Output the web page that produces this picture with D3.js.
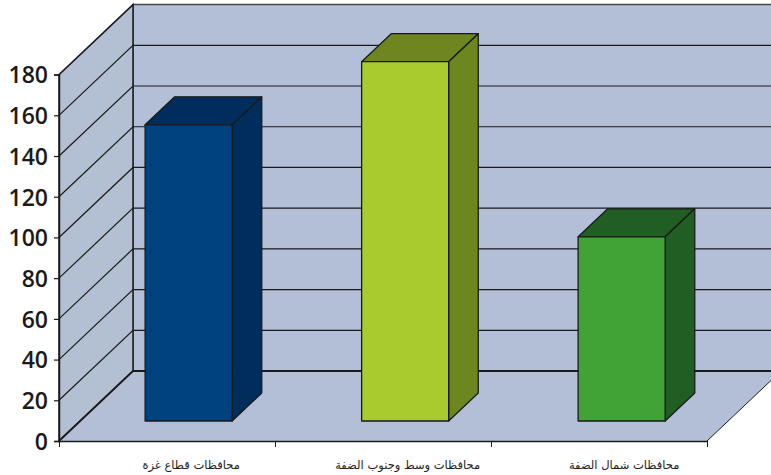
<!DOCTYPE html>
<html>
<head>
<meta charset="utf-8">
<script src="https://cdn.jsdelivr.net/npm/d3@7"></script>
<style>
  html, body { margin: 0; padding: 0; background: #fff; }
  svg { display: block; }
</style>
</head>
<body>
<svg id="chart"></svg>
<script>
const categories = ['محافظات قطاع غزة', 'محافظات وسط وجنوب الضفة', 'محافظات شمال الضفة'];
const values = [145.5, 176.5, 90.5];
const tickValues = [0, 20, 40, 60, 80, 100, 120, 140, 160, 180];
const faceColors = ['#00427f', '#a8cc2d', '#41a336'];
const shadeColors = ['#002d5c', '#6e861f', '#215e24'];

const W = 771, H = 475;
const left = 59, right = 707, bottom = 441;
const depthX = 74, depthY = 70;

const svg = d3.select('#chart').attr('width', W).attr('height', H);

const x = d3.scaleBand().domain(categories).range([left + 1, right + 1]).paddingInner(0.598).paddingOuter(0.2955);
const xEdge = d3.scaleLinear().domain([0, categories.length]).range([left, right]);
const y = d3.scaleLinear().domain([0, 180]).range([bottom, 74.6]);

// depth runs 0 (front of the floor) to 1 (back wall)
const dx = d3.scaleLinear().domain([0, 1]).range([0, depthX]);
const dy = d3.scaleLinear().domain([0, 1]).range([0, -depthY]);
const pt = (px, val, d) => [px + dx(d), y(val) + dy(d)];
const poly = pts => d3.line()(pts) + 'Z';

const ink = '#1a1a1a';

// walls and floor
svg.append('path')
  .attr('d', poly([pt(left, 0, 1), pt(W + 20, 0, 1), pt(W + 20, 180, 1), pt(left, 180, 1)]))
  .attr('fill', '#b3bfd7').attr('stroke', '#4a4a4a').attr('stroke-width', 1.5);
svg.append('path')
  .attr('d', poly([pt(left, 0, 0), pt(left, 0, 1), pt(left, 180, 1), pt(left, 180, 0)]))
  .attr('fill', '#b3bfd2').attr('stroke', ink).attr('stroke-width', 1.5);
svg.append('path')
  .attr('d', poly([pt(left, 0, 0), pt(right, 0, 0), pt(right, 0, 1), pt(left, 0, 1)]))
  .attr('fill', '#b3bfd7');
svg.append('path')
  .attr('d', poly([pt(right, 0, 0), pt(W + 20, 0, 0), pt(W + 20, 0, 1), pt(right, 0, 1)]))
  .attr('fill', '#fff');

// gridlines, side wall then back wall
const grid = svg.append('g').attr('fill', 'none').attr('stroke', ink);
tickValues.forEach(t => {
  if (t < 180) {
    grid.append('path').attr('d', d3.line()([pt(left, t, 0), pt(left, t, 1), pt(W + 20, t, 1)]))
      .attr('stroke-width', t === 0 ? 1.8 : 1.2);
  }
});

// floor edge on the right side
svg.append('path')
  .attr('d', d3.line()([pt(right, 0, 0), pt(right, 0, 1)]))
  .attr('stroke', ink).attr('stroke-width', 1);

// bars
const barFront = 20 / 70, barBack = 48 / 70;
const bars = svg.append('g').attr('stroke', ink).attr('stroke-width', 1.3).attr('stroke-linejoin', 'round');
categories.forEach((c, i) => {
  const x0 = x(c), x1 = x0 + x.bandwidth(), v = values[i];
  bars.append('path').attr('fill', shadeColors[i])
    .attr('d', poly([pt(x0, v, barFront), pt(x1, v, barFront), pt(x1, v, barBack), pt(x0, v, barBack)]));
  bars.append('path').attr('fill', shadeColors[i])
    .attr('d', poly([pt(x1, 0, barFront), pt(x1, 0, barBack), pt(x1, v, barBack), pt(x1, v, barFront)]));
  bars.append('path').attr('fill', faceColors[i])
    .attr('d', poly([pt(x0, 0, barFront), pt(x1, 0, barFront), pt(x1, v, barFront), pt(x0, v, barFront)]));
});

// axes
const yAxis = svg.append('g')
  .attr('transform', `translate(${left},0)`)
  .call(d3.axisLeft(y).tickValues(tickValues).tickSize(5).tickPadding(6).tickFormat(d3.format('d')));
yAxis.select('.domain').attr('stroke', ink).attr('stroke-width', 1.5);
yAxis.selectAll('line').attr('stroke', ink).attr('stroke-width', 1.2);
yAxis.selectAll('text')
  .attr('fill', '#1a1a1a')
  .attr('dy', '0.36em')
  .style('font-family', '"Open Sans", sans-serif')
  .style('font-weight', 600)
  .style('font-size', '23px');

const xAxis = svg.append('g')
  .attr('transform', `translate(0,${bottom})`)
  .call(d3.axisBottom(xEdge).tickValues(d3.range(categories.length + 1)).tickSize(6).tickSizeOuter(0).tickFormat(''));
xAxis.select('.domain').attr('stroke', ink).attr('stroke-width', 1.5);
xAxis.selectAll('line').attr('stroke', ink).attr('stroke-width', 1);

// category labels sit under the bar fronts
svg.append('g').selectAll('text')
  .data(categories)
  .join('text')
  .attr('x', d => x(d) + x.bandwidth() / 2 + dx(barFront) + 2.5)
  .attr('y', 469)
  .attr('text-anchor', 'middle')
  .attr('direction', 'rtl')
  .attr('fill', '#222')
  .style('font-family', '"DejaVu Sans", sans-serif')
  .style('font-size', '11.5px')
  .text(d => d);
</script>
</body>
</html>
